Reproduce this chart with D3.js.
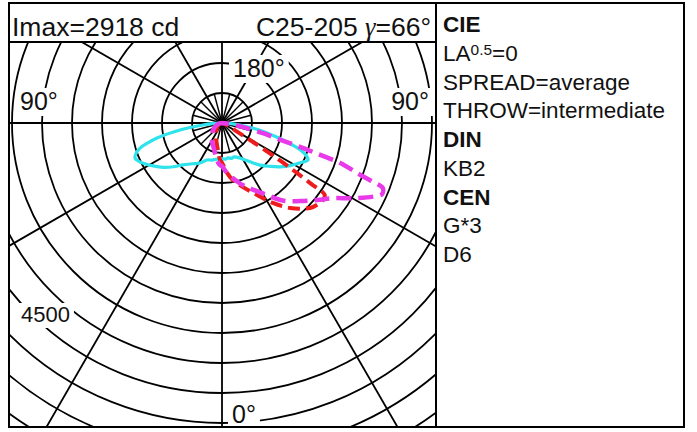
<!DOCTYPE html>
<html>
<head>
<meta charset="utf-8">
<script src="https://cdn.jsdelivr.net/npm/d3@7"></script>
<style>
  body { margin: 0; background: #fff; }
  text { font-family: "Liberation Sans", Arial, sans-serif; }
</style>
</head>
<body>
<div id="chart"></div>
<script>
// datos (ángulo gamma en grados, intensidad en cd)
const cyanAngles = [-90, -86, -84, -80.5, -77, -75, -73, -70.5, -68, -65.5, -63, -58, -53, -48, -43, -36, -29, -22, -15, -10, -5, 0, 5, 10, 15, 20, 27, 35, 42, 48, 53, 58, 63, 66.7, 68.5, 70.3, 72, 73.7, 75.5, 77.5, 80, 83.7, 86, 90];
const cyanValues = [0, 160, 318, 710, 1112, 1280, 1428, 1520, 1563, 1530, 1475, 1350, 1227, 1090, 955, 840, 762, 665, 640, 615, 600, 595, 605, 590, 610, 600, 656, 780, 944, 1080, 1213, 1340, 1460, 1560, 1520, 1434, 1300, 1128, 950, 768, 560, 302, 150, 0];

const redAngles = [-90, -80, -60, -40, -27, -20, -16, -12, -8, -5, -2, 0, 3, 6, 10, 16, 26, 32.5, 38.7, 46, 50, 52.7, 55, 55.7, 56.3, 57, 57.7, 58.5, 59.5, 61, 63, 67, 75, 90];
const redValues = [0, 25, 70, 140, 210, 290, 330, 390, 470, 560, 640, 660, 740, 840, 950, 1076, 1334, 1580, 1814, 2039, 2100, 2117, 2090, 1800, 1500, 1200, 900, 600, 380, 220, 130, 70, 30, 0];

const magentaAngles = [-90, -80, -70, -55, -42, -35, -27, -20, -14, -8, -3, 0, 5, 11, 17, 23, 32, 38, 45, 51, 56, 60, 64, 66, 68, 68.7, 69.7, 71.3, 72, 73, 74, 76, 79, 82, 85, 90];
const magentaValues = [0, 40, 90, 170, 250, 300, 360, 420, 500, 620, 700, 720, 820, 935, 1060, 1180, 1415, 1640, 1840, 2040, 2240, 2510, 2800, 2918, 2890, 2700, 2400, 2080, 1720, 1360, 1000, 700, 360, 180, 80, 0];

const ringValues = d3.range(500, 7000, 500);
const ringLabel = '4500';
const angleLabels = ['180°', '90°', '90°', '0°'];

const headerLeft = 'Imax=2918 cd';
const headerRight = ['C25-205 ', 'γ', '=66°'];

const infoLines = [
  { t: 'CIE', b: true },
  { t: 'LA', sup: '0.5', rest: '=0' },
  { t: 'SPREAD=average' },
  { t: 'THROW=intermediate' },
  { t: 'DIN', b: true },
  { t: 'KB2' },
  { t: 'CEN', b: true },
  { t: 'G*3' },
  { t: 'D6' }
];

// medidas
const width = 697;
const height = 432;
const cx = 222, cy = 123;
const panel = { x: 9, y: 3, right: 684, bottom: 427, div: 436, head: 42 };

const svg = d3.select('#chart')
  .append('svg')
  .attr('width', width)
  .attr('height', height);

// escala radial: 500 cd = 30 px
const r = d3.scaleLinear().domain([0, 500]).range([0, 30]);
const toRad = g => (180 - g) * Math.PI / 180;

svg.append('clipPath').attr('id', 'clip')
  .append('rect')
  .attr('x', panel.x + 1).attr('y', panel.head)
  .attr('width', panel.div - panel.x - 1)
  .attr('height', panel.bottom - panel.head);

const plot = svg.append('g').attr('clip-path', 'url(#clip)');
const g = plot.append('g').attr('transform', `translate(${cx},${cy})`);

// circulos
g.append('g')
  .selectAll('circle')
  .data(ringValues)
  .join('circle')
  .attr('r', d => r(d))
  .attr('fill', 'none')
  .attr('stroke', '#000')
  .attr('stroke-width', 1.8);

// radios cada 30 grados
g.append('g')
  .selectAll('line')
  .data(d3.range(0, 360, 30))
  .join('line')
  .attr('x2', d => Math.sin(d * Math.PI / 180) * r(7000))
  .attr('y2', d => Math.cos(d * Math.PI / 180) * r(7000))
  .attr('stroke', '#000')
  .attr('stroke-width', 1.8);

// radios cortos cada 15 grados dentro del primer circulo
g.append('g')
  .selectAll('line')
  .data(d3.range(15, 360, 30))
  .join('line')
  .attr('x2', d => Math.sin(d * Math.PI / 180) * r(500))
  .attr('y2', d => Math.cos(d * Math.PI / 180) * r(500))
  .attr('stroke', '#000')
  .attr('stroke-width', 1.4);

// etiquetas con fondo blanco
function label(txt, x, y, size, anchor) {
  const t = plot.append('text')
    .attr('x', x).attr('y', y)
    .attr('font-size', size)
    .attr('text-anchor', anchor || 'start')
    .attr('fill', '#111')
    .text(txt);
  const b = t.node().getBBox();
  plot.insert('rect', () => t.node())
    .attr('x', b.x - 4).attr('y', b.y + 1)
    .attr('width', b.width + 8).attr('height', b.height)
    .attr('fill', '#fff');
}
label(angleLabels[0], cx + 11, cy - 46, 25);
label(angleLabels[1], 20, cy - 13, 25);
label(angleLabels[2], 429, cy - 13, 25, 'end');
label(angleLabels[3], cx + 10, cy + 300, 25);
label(ringLabel, 21, 322, 22);

// curvas
const line = d3.lineRadial()
  .angle(d => toRad(d[0]))
  .radius(d => r(d[1]))
  .curve(d3.curveCatmullRom.alpha(0.5));

const series = [
  { a: cyanAngles, v: cyanValues, color: '#2ee3ec', w: 3.2, dash: null },
  { a: redAngles, v: redValues, color: '#ee1c1c', w: 4, dash: '12,6' },
  { a: magentaAngles, v: magentaValues, color: '#e83ae8', w: 4.5, dash: '15,7' }
];

g.append('g')
  .selectAll('path')
  .data(series)
  .join('path')
  .attr('d', s => line(d3.zip(s.a, s.v)))
  .attr('fill', 'none')
  .attr('stroke', s => s.color)
  .attr('stroke-width', s => s.w)
  .attr('stroke-dasharray', s => s.dash)
  .attr('stroke-linejoin', 'round');

// cabecera
svg.append('rect')
  .attr('x', panel.x).attr('y', panel.y)
  .attr('width', panel.div - panel.x).attr('height', panel.head - panel.y)
  .attr('fill', '#fff');

svg.append('text')
  .attr('x', 12).attr('y', 36)
  .attr('font-size', 26.5)
  .attr('fill', '#111')
  .text(headerLeft);

const hr = svg.append('text')
  .attr('x', 431).attr('y', 36)
  .attr('font-size', 26.5)
  .attr('text-anchor', 'end')
  .attr('fill', '#111');
hr.append('tspan').text(headerRight[0]);
hr.append('tspan').attr('font-family', '"Liberation Serif", serif').attr('font-style', 'italic').text(headerRight[1]);
hr.append('tspan').text(headerRight[2]);

// marcos
svg.append('rect')
  .attr('x', panel.x).attr('y', panel.y)
  .attr('width', panel.right - panel.x).attr('height', panel.bottom - panel.y)
  .attr('fill', 'none').attr('stroke', '#000').attr('stroke-width', 2);
svg.append('line')
  .attr('x1', panel.div).attr('x2', panel.div)
  .attr('y1', panel.y).attr('y2', panel.bottom)
  .attr('stroke', '#000').attr('stroke-width', 2);
svg.append('line')
  .attr('x1', panel.x).attr('x2', panel.div)
  .attr('y1', panel.head).attr('y2', panel.head)
  .attr('stroke', '#000').attr('stroke-width', 1.8);

// texto lateral
const info = svg.append('g');
infoLines.forEach((d, i) => {
  const t = info.append('text')
    .attr('x', 443).attr('y', 32 + i * 28.75)
    .attr('font-size', 22.5)
    .attr('font-weight', d.b ? 'bold' : 'normal')
    .attr('fill', '#111');
  t.append('tspan').text(d.t);
  if (d.sup) {
    t.append('tspan').attr('font-size', 15.5).attr('dy', -6).text(d.sup);
    t.append('tspan').attr('dy', 6).text(d.rest);
  }
});
</script>
</body>
</html>
